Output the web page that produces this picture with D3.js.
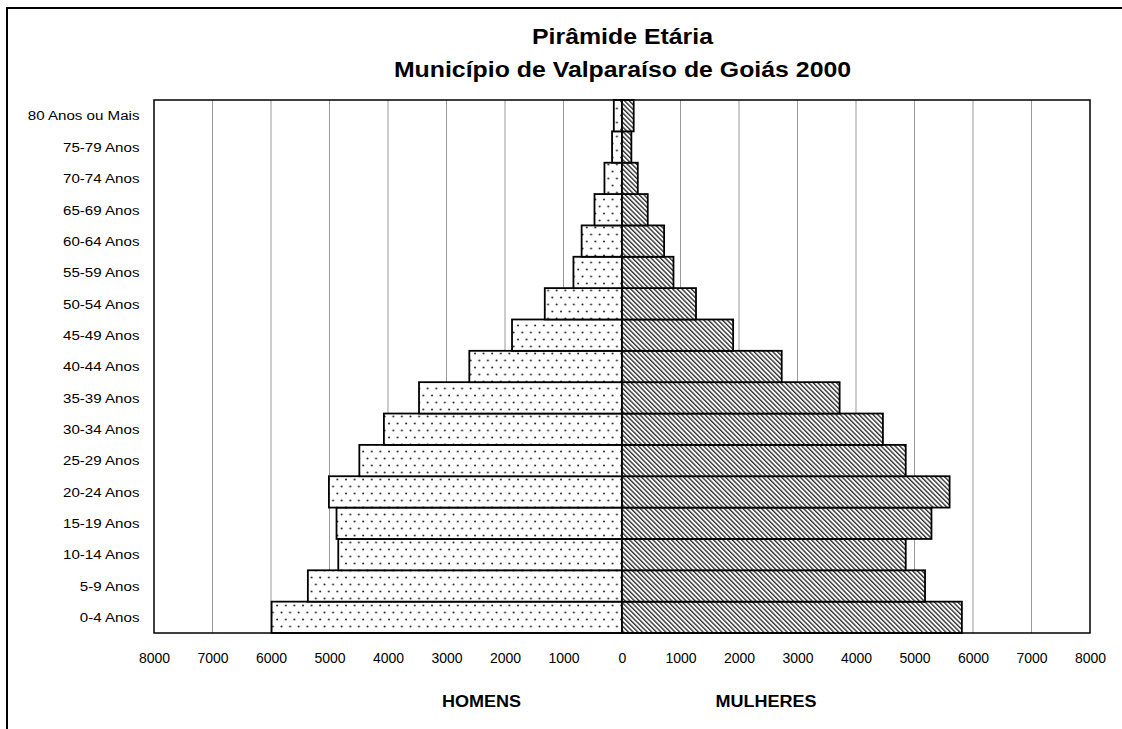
<!DOCTYPE html>
<html>
<head>
<meta charset="utf-8">
<script src="https://cdn.jsdelivr.net/npm/d3@7"></script>
<style>
  html, body { margin: 0; padding: 0; background: #fff; }
  svg { display: block; font-family: "Liberation Sans", Arial, sans-serif; }
</style>
</head>
<body>
<svg id="chart" width="1122" height="729"></svg>
<script>
// ---- data ----
const categories = ["0-4 Anos","5-9 Anos","10-14 Anos","15-19 Anos","20-24 Anos","25-29 Anos",
  "30-34 Anos","35-39 Anos","40-44 Anos","45-49 Anos","50-54 Anos","55-59 Anos","60-64 Anos",
  "65-69 Anos","70-74 Anos","75-79 Anos","80 Anos ou Mais"];
const homens   = [5990, 5370, 4850, 4880, 5010, 4490, 4070, 3470, 2610, 1880, 1320, 830, 690, 470, 300, 170, 140];
const mulheres = [5810, 5180, 4850, 5290, 5600, 4850, 4460, 3720, 2730, 1900, 1265, 880, 720, 440, 270, 160, 200];
const tickValues = [-8000,-7000,-6000,-5000,-4000,-3000,-2000,-1000,0,1000,2000,3000,4000,5000,6000,7000,8000];
const titleLines = ["Pirâmide Etária", "Município de Valparaíso de Goiás 2000"];
const sideLabels = [{text: "HOMENS", value: -2400}, {text: "MULHERES", value: 2460}];

// ---- layout ----
const svg = d3.select("#chart");
const plot = {left: 154, right: 1090, top: 100, bottom: 633};

const x = d3.scaleLinear().domain([-8000, 8000]).range([plot.left, plot.right]);
const y = d3.scaleBand().domain(categories.slice().reverse()).range([plot.top, plot.bottom]).padding(0);

// patterns
const defs = svg.append("defs");
const dots = defs.append("pattern").attr("id", "dots").attr("patternUnits", "userSpaceOnUse")
  .attr("width", 8.6).attr("height", 14);
dots.append("rect").attr("width", 8.6).attr("height", 14).attr("fill", "#fff");
dots.append("circle").attr("cx", 2).attr("cy", 3.5).attr("r", 1).attr("fill", "#222");
dots.append("circle").attr("cx", 6.3).attr("cy", 10.5).attr("r", 1).attr("fill", "#222");

const hatch = defs.append("pattern").attr("id", "hatch").attr("patternUnits", "userSpaceOnUse")
  .attr("width", 3.3).attr("height", 10).attr("patternTransform", "rotate(-45)");
hatch.append("rect").attr("width", 3.3).attr("height", 10).attr("fill", "#fff");
hatch.append("rect").attr("x", 0).attr("width", 1.4).attr("height", 10).attr("fill", "#333");

// outer frame (cropped at right/bottom)
svg.append("rect").attr("x", 7).attr("y", 8).attr("width", 1200).attr("height", 800)
  .attr("fill", "none").attr("stroke", "#000").attr("stroke-width", 2);

// gridlines
svg.append("g").selectAll("line").data(tickValues.filter(d => d !== 0 && Math.abs(d) !== 8000))
  .join("line")
  .attr("x1", d => x(d)).attr("x2", d => x(d))
  .attr("y1", plot.top).attr("y2", plot.bottom)
  .attr("stroke", "#999").attr("stroke-width", 1);

// bars
const rows = categories.map((c, i) => ({cat: c, h: homens[i], m: mulheres[i]}));
const bars = svg.append("g");
bars.selectAll("rect.h").data(rows).join("rect").attr("class", "h")
  .attr("x", d => x(-d.h)).attr("width", d => x(0) - x(-d.h))
  .attr("y", d => y(d.cat)).attr("height", y.bandwidth())
  .attr("fill", "url(#dots)").attr("stroke", "#000").attr("stroke-width", 1.8);
bars.selectAll("rect.m").data(rows).join("rect").attr("class", "m")
  .attr("x", x(0)).attr("width", d => x(d.m) - x(0))
  .attr("y", d => y(d.cat)).attr("height", y.bandwidth())
  .attr("fill", "url(#hatch)").attr("stroke", "#000").attr("stroke-width", 1.8);

// plot border
svg.append("rect").attr("x", plot.left).attr("y", plot.top)
  .attr("width", plot.right - plot.left).attr("height", plot.bottom - plot.top)
  .attr("fill", "none").attr("stroke", "#000").attr("stroke-width", 1.5);

// x axis
const xAxis = d3.axisBottom(x).tickValues(tickValues).tickSize(0).tickPadding(0)
  .tickFormat(d => String(Math.abs(d)));
const gx = svg.append("g").attr("transform", `translate(0,${plot.bottom})`).call(xAxis);
gx.select(".domain").remove();
gx.selectAll("text").attr("font-size", 14).attr("fill", "#000")
  .attr("font-family", "Liberation Sans, Arial, sans-serif").attr("y", 30).attr("dy", 0);

// y labels
svg.append("g").selectAll("text").data(categories).join("text")
  .attr("transform", d => `translate(139.5,${y(d) + y.bandwidth() / 2 + 4.8}) scale(1.12,1)`)
  .attr("text-anchor", "end").attr("font-size", 13.5).attr("fill", "#000")
  .text(d => d);

// title
svg.append("g").selectAll("text").data(titleLines).join("text")
  .attr("transform", (d, i) => `translate(622.5,${44.3 + i * 33}) scale(1.13,1)`)
  .attr("text-anchor", "middle").attr("font-size", 22).attr("font-weight", "bold")
  .attr("fill", "#000").text(d => d);

// side labels
svg.append("g").selectAll("text").data(sideLabels).join("text")
  .attr("transform", d => `translate(${x(d.value)},707.3) scale(1.14,1)`)
  .attr("text-anchor", "middle").attr("font-size", 15.8).attr("font-weight", "bold")
  .attr("fill", "#000").text(d => d.text);
</script>
</body>
</html>
